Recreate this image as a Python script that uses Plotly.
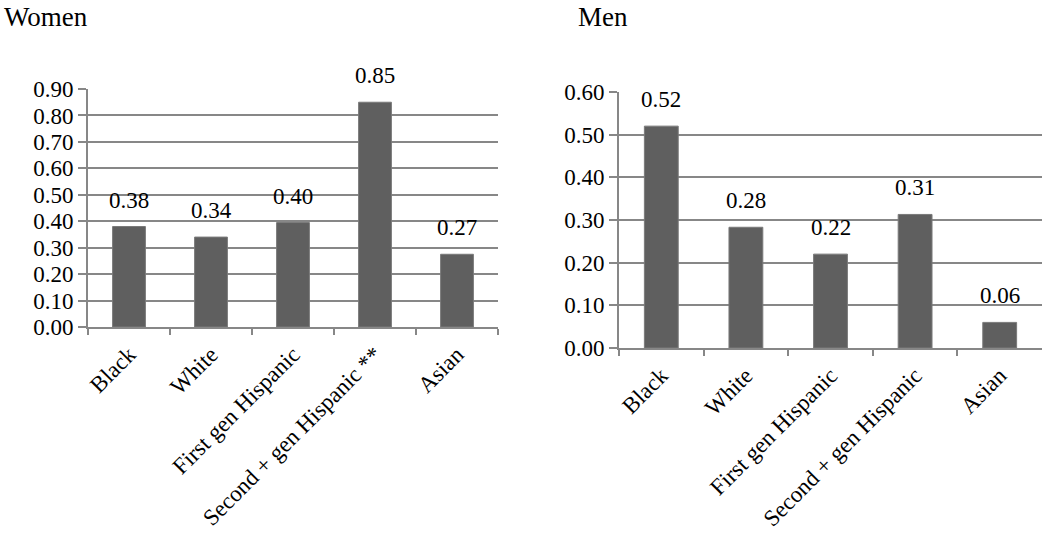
import plotly.graph_objects as go

categories_women = ["Black", "White", "First gen Hispanic", "Second + gen Hispanic **", "Asian"]
values_women = [0.38, 0.34, 0.395, 0.85, 0.275]
labels_women = ["0.38", "0.34", "0.40", "0.85", "0.27"]

categories_men = ["Black", "White", "First gen Hispanic", "Second + gen Hispanic", "Asian"]
values_men = [0.52, 0.283, 0.22, 0.313, 0.06]
labels_men = ["0.52", "0.28", "0.22", "0.31", "0.06"]

women_ticks = [round(i * 0.1, 2) for i in range(10)]
men_ticks = [round(i * 0.1, 2) for i in range(7)]

FONT = "Liberation Serif"
BAR = "#5f5f5f"
GRID = "#878787"

fig = go.Figure()
fig.add_trace(go.Bar(x=categories_women, y=values_women, marker=dict(color=BAR, line=dict(color="#7a7a7a", width=1)),
                     xaxis="x", yaxis="y", width=0.4, showlegend=False, hoverinfo="skip"))
fig.add_trace(go.Bar(x=categories_men, y=values_men, marker=dict(color=BAR, line=dict(color="#7a7a7a", width=1)),
                     xaxis="x2", yaxis="y2", width=0.4, showlegend=False, hoverinfo="skip"))

annotations = []
for c, v, t in zip(categories_women, values_women, labels_women):
    annotations.append(dict(x=c, y=v, xref="x", yref="y", text=t, showarrow=False,
                            yanchor="bottom", yshift=12, font=dict(family=FONT, size=23, color="black")))
for c, v, t in zip(categories_men, values_men, labels_men):
    annotations.append(dict(x=c, y=v, xref="x2", yref="y2", text=t, showarrow=False,
                            yanchor="bottom", yshift=12, font=dict(family=FONT, size=23, color="black")))
annotations.append(dict(x=2 / 1050, y=1.0, xref="paper", yref="paper", xanchor="left", yanchor="top",
                        text="Women", showarrow=False, font=dict(family=FONT, size=27, color="black")))
annotations.append(dict(x=576 / 1050, y=1.0, xref="paper", yref="paper", xanchor="left", yanchor="top",
                        text="Men", showarrow=False, font=dict(family=FONT, size=27, color="black")))

yaxis_common = dict(showgrid=True, gridcolor=GRID, gridwidth=2, showline=True, linecolor=GRID, linewidth=2,
                    ticks="outside", ticklen=8, tickcolor=GRID, tickwidth=2, zeroline=False, automargin=False,
                    tickfont=dict(family=FONT, size=23, color="black"), tickformat=".2f", fixedrange=True)
xaxis_common = dict(showgrid=False, showline=True, linecolor=GRID, linewidth=2, ticks="outside", ticklen=6,
                    tickcolor=GRID, tickwidth=2, tickson="boundaries", tickangle=-45, automargin=False,
                    ticklabelstandoff=3,
                    tickfont=dict(family=FONT, size=23, color="black"), fixedrange=True)

fig.update_layout(
    width=1050, height=535, autosize=False,
    margin=dict(l=0, r=0, t=0, b=0, pad=0),
    paper_bgcolor="white", plot_bgcolor="white",
    bargap=0.6,
    xaxis=dict(domain=[88 / 1050, 498 / 1050], anchor="y", **xaxis_common),
    yaxis=dict(domain=[1 - 327 / 535, 1 - 89 / 535], anchor="x", range=[0, 0.9], tickvals=women_ticks, **yaxis_common),
    xaxis2=dict(domain=[619 / 1050, 1042 / 1050], anchor="y2", **xaxis_common),
    yaxis2=dict(domain=[1 - 348 / 535, 1 - 92 / 535], anchor="x2", range=[0, 0.6], tickvals=men_ticks, **yaxis_common),
    annotations=annotations,
)

fig.write_html("out.html", config={"displayModeBar": False},
               post_script="document.body.style.margin='0';document.body.style.overflow='hidden';")
